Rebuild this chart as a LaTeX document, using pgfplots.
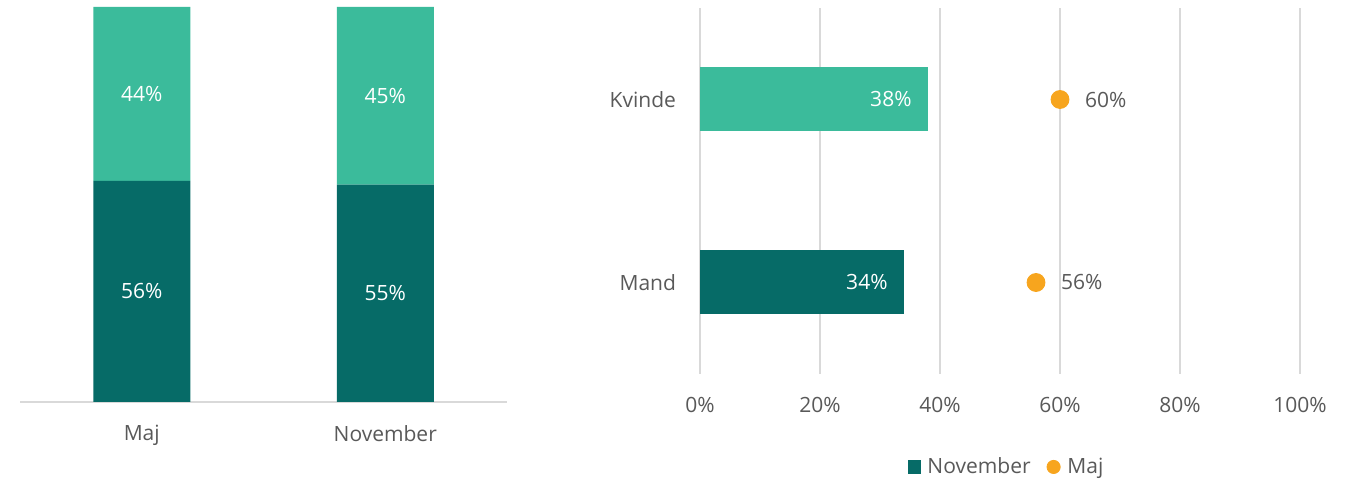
\documentclass[border=0pt]{standalone}
\usepackage{pgfplots}
\pgfplotsset{compat=1.18}
\usepackage{fontspec}
\setmainfont{Open Sans}
\definecolor{lgreen}{HTML}{3BBB9B}
\definecolor{dteal}{HTML}{066B67}
\definecolor{orng}{HTML}{F7A51E}
\definecolor{gridc}{HTML}{D9D9D9}
\definecolor{txt}{HTML}{595959}
\pgfplotsset{every axis/.append style={font=\fontsize{10.5}{12.5}\selectfont}}
\begin{document}
\begin{tikzpicture}
\path[use as bounding box] (0pt,0pt) rectangle (677.5pt,240.5pt);
% Left: stacked columns
\begin{axis}[
  at={(10pt,39.5pt)}, anchor=south west,
  scale only axis, width=243.5pt, height=197.5pt,
  xmin=-0.5, xmax=1.5, ymin=0, ymax=100,
  ybar stacked, bar width=48.5pt,
  axis x line*=bottom, axis y line=none,
  x axis line style={gridc, line width=1pt, -},
  xtick={0,1}, xticklabels={Maj,November},
  major tick length=0pt,
  xticklabel style={text=txt, yshift=-8pt},
  clip=false,
]
\addplot[fill=dteal, draw=none,
  point meta=explicit symbolic, nodes near coords,
  every node near coord/.append style={anchor=center, text=white}]
  coordinates {(0,56)[56\%] (1,55)[55\%]};
\addplot[fill=lgreen, draw=none,
  point meta=explicit symbolic, nodes near coords,
  every node near coord/.append style={anchor=center, text=white}]
  coordinates {(0,44)[44\%] (1,45)[45\%]};
\end{axis}
% Right: horizontal bars with dots
\begin{axis}[
  at={(350pt,53.5pt)}, anchor=south west,
  scale only axis, width=300pt, height=183pt,
  xmin=0, xmax=100, ymin=-0.5, ymax=1.5,
  xtick={0,20,40,60,80,100},
  xticklabels={0\%,20\%,40\%,60\%,80\%,100\%},
  ytick={0,1}, yticklabels={Mand,Kvinde},
  xmajorgrids, grid style={gridc, line width=1pt},
  axis line style={draw=none}, major tick length=0pt,
  xticklabel style={text=txt, yshift=-8pt},
  yticklabel style={text=txt, xshift=-8.5pt},
  clip=false,
  legend style={at={(0.513,-0.254)}, anchor=center, draw=none, legend columns=2,
    text=txt, font=\fontsize{10.5}{12.5}\selectfont,
    /tikz/every even column/.append style={column sep=6pt}},
]
\addplot[xbar, bar width=32pt, bar shift=0pt, fill=dteal, draw=none,
  point meta=explicit symbolic, nodes near coords,
  every node near coord/.append style={anchor=east, text=white, xshift=-4.7pt},
  legend image code/.code={\fill[dteal] (0pt,-3.3pt) rectangle (6.6pt,3.3pt); \path (7.6pt,0pt);}]
  coordinates {(34,0)[34\%]};
\addlegendentry{November}
\addplot[xbar, bar width=32pt, bar shift=0pt, fill=lgreen, draw=none, forget plot,
  point meta=explicit symbolic, nodes near coords,
  every node near coord/.append style={anchor=east, text=white, xshift=-4.7pt}]
  coordinates {(38,1)[38\%]};
\addplot[only marks, mark=*, mark size=4.5pt, color=orng, mark options={fill=orng, draw=none},
  point meta=explicit symbolic, nodes near coords,
  every node near coord/.append style={anchor=west, text=txt, xshift=9pt, yshift=0pt},
  legend image code/.code={\fill[orng] (3.3pt,0pt) circle (3.3pt); \path (8pt,0pt);}]
  coordinates {(60,1)[60\%] (56,0)[56\%]};
\addlegendentry{Maj}
\end{axis}
\end{tikzpicture}
\end{document}
